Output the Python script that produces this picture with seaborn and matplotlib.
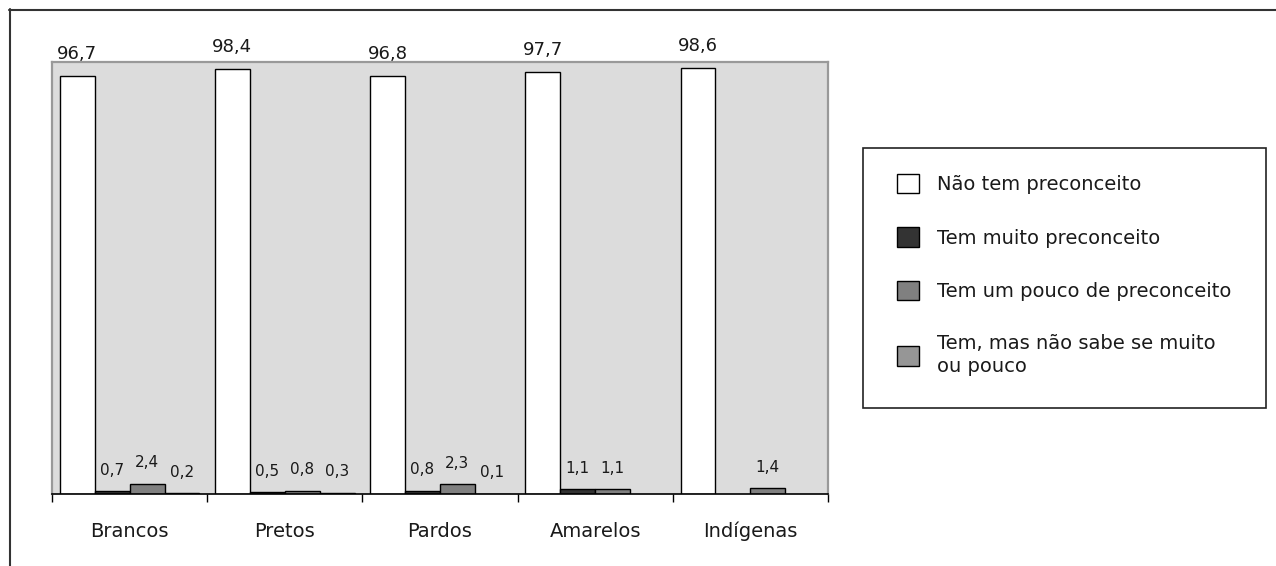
import numpy as np
import pandas as pd
import matplotlib
matplotlib.use("Agg")
import matplotlib.pyplot as plt
from matplotlib.patches import Patch, Rectangle
from matplotlib.lines import Line2D
import seaborn as sns

categories = ["Brancos", "Pretos", "Pardos", "Amarelos", "Indígenas"]
series = ["Não tem preconceito", "Tem muito preconceito",
          "Tem um pouco de preconceito", "Tem, mas não sabe se muito\nou pouco"]
nao_tem = [96.7, 98.4, 96.8, 97.7, 98.6]
tem_muito = [0.7, 0.5, 0.8, 1.1, np.nan]
tem_pouco = [2.4, 0.8, 2.3, 1.1, 1.4]
nao_sabe = [0.2, 0.3, 0.1, np.nan, np.nan]
colors = ["#ffffff", "#333333", "#808080", "#969696"]

rows = []
for s, vals in zip(series, [nao_tem, tem_muito, tem_pouco, nao_sabe]):
    for c, v in zip(categories, vals):
        rows.append({"cat": c, "serie": s, "valor": v})
df = pd.DataFrame(rows).dropna()

sns.set_theme(style="white")
plt.rcParams["font.family"] = ["DejaVu Sans"]

W, H = 1276, 566
fig = plt.figure(figsize=(W / 100, H / 100), dpi=100)
ax = fig.add_axes([52 / W, 1 - 494 / H, 776 / W, 432 / H])
ax.set_facecolor("#dcdcdc")

sns.barplot(data=df, x="cat", y="valor", hue="serie", order=categories,
            hue_order=series, palette=dict(zip(series, colors)),
            width=0.9, gap=0, edgecolor="black", linewidth=1.0,
            errorbar=None, legend=False, ax=ax, saturation=1)

ax.set_ylim(0, 100)
ax.set_xlim(-0.5, 4.5)
ax.set_yticks([])
ax.set_xlabel("")
ax.set_ylabel("")

# labels
for patch in ax.patches:
    h = patch.get_height()
    if np.isnan(h) or h <= 0:
        continue
    x = patch.get_x() + patch.get_width() / 2
    big = h > 50
    ax.annotate(f"{h:.1f}".replace(".", ","), (x, h), xytext=(0, 16 if big else 15),
                textcoords="offset points", ha="center", va="center",
                fontsize=13 if big else 11, color="#1a1a1a", clip_on=False)

ax.set_xticks(range(len(categories)))
ax.set_xticklabels(categories, fontsize=14, color="#1a1a1a")
ax.set_xticks(np.arange(-0.5, len(categories)), minor=True)
ax.tick_params(axis="x", which="major", length=0, pad=20)
ax.tick_params(axis="x", which="minor", length=6, width=1.0, color="black", bottom=True)

for side in ["left", "top", "right"]:
    ax.spines[side].set_color("#999999")
    ax.spines[side].set_linewidth(1.6)
ax.spines["bottom"].set_color("black")
ax.spines["bottom"].set_linewidth(1.2)

# outer frame (top and left)
fig.add_artist(Line2D([9 / W, 1], [1 - 9.5 / H, 1 - 9.5 / H], transform=fig.transFigure,
                      color="#333333", lw=1.5))
fig.add_artist(Line2D([9.5 / W, 9.5 / W], [0, 1 - 9 / H], transform=fig.transFigure,
                      color="#333333", lw=1.5))

# legend box
fig.add_artist(Rectangle((863 / W, 1 - 408 / H), 403 / W, 260 / H, transform=fig.transFigure,
                         facecolor="white", edgecolor="#222222", lw=1.2))
handles = [Patch(facecolor=c, edgecolor="black", lw=1.0) for c in colors]
leg = fig.legend(handles, series, loc="upper left", bbox_to_anchor=(897 / W, 1 - 174 / H),
                 frameon=False, fontsize=14, borderpad=0, borderaxespad=0,
                 handlelength=1.15, handleheight=1.15, handletextpad=0.9,
                 labelspacing=1.7, labelcolor="#1a1a1a")
leg.get_texts()[3].set_linespacing(1.3)

fig.savefig("out.png", dpi=100)
